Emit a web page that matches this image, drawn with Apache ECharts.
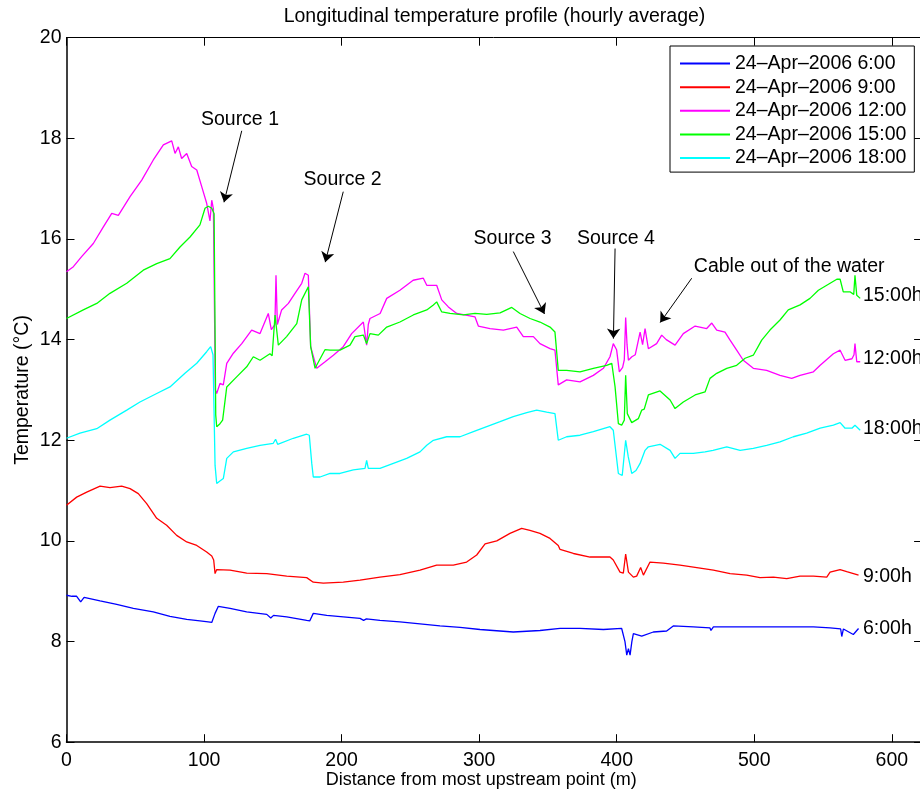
<!DOCTYPE html>
<html>
<head>
<meta charset="utf-8">
<script src="https://cdn.jsdelivr.net/npm/echarts@6/dist/echarts.min.js"></script>
<style>html,body{margin:0;padding:0;background:#fff}#chart{width:920px;height:793px}</style>
</head>
<body>
<div id="chart"></div>
<script>
const FONT = '"Liberation Sans", Arial, Helvetica, sans-serif';

const chartTitle = 'Longitudinal temperature profile (hourly average)';
const xAxisTitle = 'Distance from most upstream point (m)';
const yAxisTitle = 'Temperature (°C)';

const seriesNames = ['24–Apr–2006 6:00', '24–Apr–2006 9:00', '24–Apr–2006 12:00', '24–Apr–2006 15:00', '24–Apr–2006 18:00'];
const seriesColors = ['#0000ff', '#ff0000', '#ff00ff', '#00ff00', '#00ffff'];

const xTickValues = [0, 100, 200, 300, 400, 500, 600];
const yTickValues = [6, 8, 10, 12, 14, 16, 18, 20];

// [distance (m), temperature (°C)]
const temp0600 = [[0,8.92],[4,8.9],[7.4,8.9],[10.3,8.79],[12.8,8.88],[24.4,8.81],[36.5,8.74],[48.6,8.66],[63.1,8.59],[75.2,8.5],[87.4,8.44],[97,8.41],[103,8.39],[105.6,8.38],[108,8.56],[110.4,8.7],[118.9,8.66],[131,8.59],[145.6,8.54],[148.5,8.47],[150.5,8.52],[160.1,8.49],[174.6,8.42],[176.8,8.41],[179.4,8.56],[189.2,8.52],[201.2,8.49],[213.4,8.46],[216,8.42],[218,8.45],[227.9,8.42],[242.4,8.39],[257,8.35],[271.5,8.31],[286.1,8.28],[300.6,8.24],[324.8,8.19],[344.2,8.22],[358.8,8.26],[373.3,8.26],[390.3,8.24],[403.6,8.26],[406,8.0],[407.3,7.73],[408.5,7.86],[409.7,7.73],[411,8.0],[412.1,8.16],[418.2,8.11],[426.6,8.19],[436.3,8.21],[441.1,8.31],[455.7,8.29],[467.8,8.27],[468.5,8.22],[470.3,8.29],[489.7,8.29],[509,8.29],[528.4,8.29],[543,8.29],[555.1,8.27],[562.8,8.25],[563.6,8.1],[564.8,8.25],[572,8.14],[575.8,8.26]];

const temp0900 = [[0,10.71],[7.4,10.87],[14.7,10.97],[24.4,11.09],[31.6,11.06],[40.1,11.09],[46.2,11.04],[52.2,10.94],[58.3,10.74],[65.6,10.45],[72.8,10.31],[80.1,10.11],[87.4,9.98],[94.7,9.91],[101.9,9.78],[105.6,9.7],[107,9.62],[108,9.35],[109.2,9.43],[118.9,9.42],[131,9.36],[145.6,9.35],[160.1,9.3],[174.6,9.27],[179.4,9.18],[186.7,9.16],[201.2,9.18],[213.4,9.22],[227.9,9.28],[242.4,9.33],[257,9.42],[269.1,9.52],[281.2,9.52],[290.9,9.58],[298.2,9.72],[304.3,9.94],[312.8,10.0],[322.4,10.15],[330.9,10.25],[336.9,10.21],[344.2,10.15],[351.5,10.05],[357.5,9.91],[358.8,9.83],[368.5,9.75],[380.6,9.68],[395.1,9.68],[397.5,9.62],[402.4,9.38],[404.8,9.36],[406.5,9.74],[408.5,9.38],[412.1,9.28],[414.5,9.3],[417.4,9.47],[419.4,9.32],[424.2,9.58],[433.9,9.56],[446,9.52],[458.2,9.47],[470.3,9.42],[482.4,9.35],[494.5,9.32],[504.2,9.27],[513.9,9.28],[523.6,9.25],[533.3,9.3],[543,9.3],[552.7,9.28],[555.1,9.38],[562.4,9.43],[567.2,9.39],[575.8,9.32]];

const temp1200 = [[0,15.35],[5,15.45],[11,15.65],[19.5,15.91],[26.8,16.24],[32.9,16.51],[37.7,16.47],[46.2,16.84],[54.7,17.17],[63.1,17.57],[70.4,17.87],[76.5,17.95],[78.9,17.7],[81.3,17.83],[83.7,17.6],[87.4,17.7],[91,17.44],[94.7,17.37],[98.3,17.04],[101.9,16.71],[104.3,16.36],[105.6,16.77],[106.8,16.6],[108.2,13.0],[109.2,12.93],[111.6,13.13],[114,13.1],[116.5,13.53],[121.3,13.73],[127.4,13.92],[134.6,14.19],[140.7,14.12],[146.7,14.52],[148.9,14.2],[151.5,14.3],[152.3,15.28],[153.3,14.3],[156.4,14.59],[161.3,14.72],[166.1,14.92],[171,15.12],[173.4,15.32],[175.8,15.28],[177.5,13.86],[181.9,13.43],[188,13.56],[194,13.69],[201.2,13.86],[207.3,14.12],[215.8,14.35],[217,14.35],[218.2,13.89],[219.4,14.3],[220.6,14.42],[228,14.52],[232.8,14.82],[242.4,14.98],[252,15.18],[259.4,15.22],[261.9,15.08],[269.1,15.08],[272.8,14.79],[277.6,14.65],[283.7,14.52],[297,14.45],[299.4,14.27],[307.9,14.22],[317.6,14.19],[327.3,14.25],[332.1,14.06],[339.4,14.06],[344.2,13.92],[351.5,13.82],[355.1,13.79],[357.5,13.1],[363.6,13.2],[373.3,13.16],[383,13.29],[390.3,13.43],[395.1,13.66],[397.5,13.92],[399.9,13.8],[401.9,13.36],[404.3,13.45],[405.5,13.6],[406.5,14.44],[407.5,13.9],[408.5,13.59],[411,13.66],[413.5,13.7],[417,14.15],[418.8,13.9],[420.6,14.22],[423,13.82],[429,13.92],[432.7,14.09],[436,14.0],[442.4,13.89],[448.4,14.12],[457,14.27],[465.4,14.22],[469.1,14.33],[472.7,14.19],[478.7,14.15],[482.4,13.99],[487.2,13.79],[492,13.59],[499.3,13.43],[509,13.39],[518.7,13.29],[527.2,13.23],[533.3,13.29],[543,13.36],[547.9,13.49],[557.5,13.72],[562.4,13.79],[566,13.59],[571,13.62],[572.5,13.7],[573.2,13.92],[574.5,13.56],[577,13.56]];

const temp1500 = [[0,14.42],[12.2,14.59],[22,14.72],[31.6,14.92],[43.8,15.12],[55.8,15.38],[65.6,15.51],[75.2,15.61],[82.5,15.84],[89.8,16.04],[97,16.28],[100.7,16.61],[103.1,16.65],[105.6,16.61],[107.3,16.5],[108.5,12.5],[109.2,12.27],[111.6,12.33],[113.5,12.4],[116.5,13.06],[123.7,13.26],[131,13.46],[135.8,13.66],[140.7,13.59],[147.9,13.72],[149.5,13.68],[151.6,14.49],[154,13.89],[160,14.06],[167.4,14.32],[171,14.79],[175.8,15.05],[177.5,13.86],[180.7,13.43],[184,13.6],[187.9,13.8],[191.6,13.79],[198.8,13.79],[206.1,13.89],[209.7,14.06],[215.8,14.09],[218.2,13.92],[220.6,14.12],[226.7,14.09],[232.8,14.25],[242.4,14.35],[252.1,14.49],[261.9,14.59],[266.7,14.69],[269.1,14.75],[272.8,14.55],[278.8,14.52],[288.5,14.49],[297,14.52],[305.5,14.5],[315.2,14.53],[323.7,14.64],[329.7,14.52],[337,14.42],[344.2,14.35],[351.5,14.25],[355.1,14.15],[357.5,13.39],[363.6,13.39],[373.3,13.36],[383,13.43],[392.7,13.49],[396.4,13.53],[398.8,13.06],[401.2,12.33],[403.6,12.3],[405.5,12.4],[406.5,13.29],[407.7,12.53],[410.9,12.35],[415.7,12.43],[418.2,12.6],[420,12.62],[423,12.9],[431.5,12.98],[438.8,12.8],[442.4,12.63],[448.4,12.76],[457,12.9],[464.2,12.96],[467.8,13.23],[472.7,13.33],[480,13.43],[487.2,13.49],[493.3,13.63],[499.3,13.69],[505.4,13.99],[511.4,14.19],[518.7,14.39],[524.7,14.59],[533.3,14.69],[540.5,14.82],[546.6,14.98],[552.7,15.08],[560,15.2],[562.4,15.2],[564.7,14.95],[569.5,14.95],[572.3,14.9],[573.2,15.28],[574.5,14.88],[577,14.82]];

const temp1800 = [[0,12.04],[9.8,12.14],[22,12.23],[31.6,12.4],[43.8,12.6],[53.4,12.76],[65.6,12.93],[75.2,13.06],[86.1,13.33],[94.7,13.53],[101.9,13.76],[104.8,13.86],[106.5,13.7],[108,11.5],[109.2,11.14],[112,11.2],[114,11.24],[116.5,11.64],[121.3,11.77],[131,11.84],[140.7,11.9],[150.3,11.94],[152,12.02],[153.5,11.92],[164.9,12.04],[174.6,12.12],[176.5,12.1],[178.3,11.54],[179.4,11.27],[184.3,11.27],[191.6,11.34],[198.8,11.34],[208.5,11.41],[217,11.44],[218.2,11.6],[219.4,11.44],[227.9,11.44],[237.6,11.54],[247.3,11.64],[257,11.77],[261.9,11.9],[266.7,12.0],[276.4,12.07],[286.1,12.07],[295.8,12.17],[305.5,12.27],[315.2,12.37],[324.8,12.47],[334.6,12.55],[341.8,12.6],[349.1,12.56],[355.1,12.53],[357.5,12.0],[363.6,12.07],[373.3,12.1],[383,12.17],[395.1,12.27],[397.5,12.2],[401.2,11.34],[404,11.3],[406.5,12.0],[408.4,11.67],[410.9,11.34],[414,11.4],[417,11.54],[420.6,11.8],[423,11.87],[431.5,11.92],[438.8,11.8],[442.4,11.64],[446,11.74],[455.7,11.74],[464.2,11.77],[470,11.8],[480,11.87],[489.7,11.8],[499.3,11.84],[509,11.9],[518.7,11.97],[528.4,12.07],[538.1,12.14],[547.9,12.24],[557.5,12.3],[562.4,12.35],[566,12.24],[571,12.24],[573.2,12.3],[577,12.2]];

// annotations (data coordinates)
const annotationTexts = ['Source 1', 'Source 2', 'Source 3', 'Source 4', 'Cable out of the water'];
const annotationTextPos = [[126.1,18.37],[200.7,17.17],[324.3,16.0],[399.4,16.0],[525.4,15.45]];
const arrowStarts = [[127.4,18.15],[201.2,16.94],[324.8,15.75],[398.8,15.81],[454.5,15.22]];
const arrowEnds = [[114.5,16.73],[188.1,15.54],[347.5,14.51],[397.6,14.02],[431.6,14.34]];
const endLabels = ['15:00h', '12:00h', '18:00h', '9:00h', '6:00h'];
const endLabelPos = [[579,14.88],[579,13.63],[579,12.23],[579,9.3],[579,8.26]];

const seriesData = [temp0600, temp0900, temp1200, temp1500, temp1800];

const chart = echarts.init(document.getElementById('chart'), null, { renderer: 'canvas' });

const lineSeries = seriesNames.map((name, i) => ({
  name: name,
  type: 'line',
  data: seriesData[i],
  xAxisIndex: 0,
  yAxisIndex: 0,
  symbol: 'none',
  showSymbol: false,
  smooth: false,
  color: seriesColors[i],
  lineStyle: { color: seriesColors[i], width: 1.3 },
  emphasis: { disabled: true },
  animation: false
}));

const annotationSeries = {
  name: 'annotations',
  type: 'scatter',
  data: [],
  xAxisIndex: 0,
  yAxisIndex: 0,
  silent: true,
  animation: false,
  markLine: {
    silent: true,
    animation: false,
    symbol: ['none', 'arrow'],
    symbolSize: 10,
    lineStyle: { color: '#000', width: 1, type: 'solid' },
    itemStyle: { color: '#000' },
    label: { show: false },
    emphasis: { disabled: true },
    data: arrowStarts.map((s, i) => [{ coord: s }, { coord: arrowEnds[i] }])
  },
  markPoint: {
    silent: true,
    animation: false,
    symbol: 'circle',
    symbolSize: 0,
    itemStyle: { color: 'transparent' },
    label: { show: true, color: '#000', fontSize: 19.5, fontFamily: FONT, formatter: '{b}' },
    data: annotationTexts.map((t, i) => ({
      name: t, coord: annotationTextPos[i],
      label: { position: 'inside', align: 'center', verticalAlign: 'middle' }
    })).concat(endLabels.map((t, i) => ({
      name: t, coord: endLabelPos[i],
      label: { position: 'right', distance: 0, align: 'left', verticalAlign: 'middle' }
    })))
  }
};

const axisCommonX = {
  type: 'value', min: 0, max: 622, interval: 100,
  splitLine: { show: false }
};
const axisCommonY = {
  type: 'value', min: 6, max: 20, interval: 2,
  splitLine: { show: false }
};

const option = {
  backgroundColor: '#ffffff',
  animation: false,
  textStyle: { fontFamily: FONT },
  grid: { left: 66.5, top: 37.7, width: 855.6, height: 704.5, containLabel: false, outerBoundsMode: 'none' },
  graphic: [{
    type: 'text', x: 494.5, y: 16.5,
    style: { text: chartTitle, fill: '#000', fontSize: 19.5, fontFamily: FONT, align: 'center', verticalAlign: 'middle' }
  }],
  legend: {
    data: seriesNames,
    orient: 'vertical',
    left: 670, top: 46,
    padding: [7.5, 8, 4, 10],
    itemGap: 3.65,
    itemWidth: 50,
    itemHeight: 2,
    itemTextGap: 6,
    icon: 'rect',
    backgroundColor: '#ffffff',
    borderColor: '#000',
    borderWidth: 1,
    borderRadius: 0,
    selectedMode: false,
    textStyle: { color: '#000', fontSize: 19.5, fontFamily: FONT, lineHeight: 20 }
  },
  xAxis: [
    Object.assign({}, axisCommonX, {
      position: 'bottom',
      name: xAxisTitle,
      nameLocation: 'middle',
      nameGap: 29,
      nameMoveOverlap: false,
      nameTextStyle: { color: '#000', fontSize: 18, fontFamily: FONT, padding: [0, 26, 0, 0] },
      axisLine: { show: true, onZero: false, lineStyle: { color: '#000', width: 1.5 } },
      axisTick: { show: true, inside: true, length: 8, lineStyle: { color: '#000', width: 1 } },
      axisLabel: {
        color: '#000', fontSize: 19.5, fontFamily: FONT, margin: 8,
        formatter: v => (xTickValues.indexOf(v) >= 0 ? String(v) : '')
      }
    }),
    Object.assign({}, axisCommonX, {
      position: 'top',
      axisLine: { show: true, onZero: false, lineStyle: { color: '#000', width: 1 } },
      axisTick: { show: true, inside: true, length: 8, lineStyle: { color: '#000', width: 1 } },
      axisLabel: { show: false }
    })
  ],
  yAxis: [
    Object.assign({}, axisCommonY, {
      position: 'left',
      name: yAxisTitle,
      nameLocation: 'middle',
      nameGap: 34,
      nameMoveOverlap: false,
      nameTextStyle: { color: '#000', fontSize: 19.5, fontFamily: FONT },
      axisLine: { show: true, onZero: false, lineStyle: { color: '#000', width: 1.5 } },
      axisTick: { show: true, inside: true, length: 8, lineStyle: { color: '#000', width: 1 } },
      axisLabel: {
        color: '#000', fontSize: 19.5, fontFamily: FONT, margin: 5,
        formatter: v => (yTickValues.indexOf(v) >= 0 ? String(v) : '')
      }
    }),
    Object.assign({}, axisCommonY, {
      position: 'right',
      axisLine: { show: true, onZero: false, lineStyle: { color: '#000', width: 1 } },
      axisTick: { show: true, inside: true, length: 8, lineStyle: { color: '#000', width: 1 } },
      axisLabel: { show: false }
    })
  ],
  series: lineSeries.concat([annotationSeries])
};

chart.setOption(option);
</script>
</body>
</html>
